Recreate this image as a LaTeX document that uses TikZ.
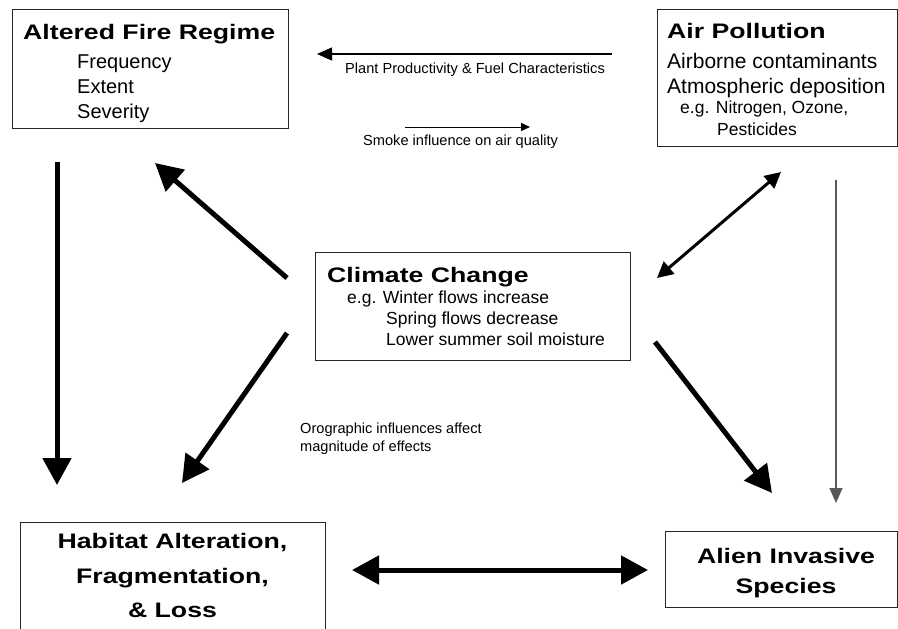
\documentclass[tikz,border=0pt]{standalone}
\usepackage{fontspec}
\setmainfont{Liberation Sans}
\newfontfamily\headfam{Liberation Sans}[FakeStretch=1.27]
\usetikzlibrary{arrows.meta}
\tikzset{
  box/.style={draw=black!85, line width=1pt, inner sep=0pt},
  hd/.style={anchor=base west, inner sep=0pt, font=\headfam\bfseries\fontsize{21}{25}\selectfont},
  hdc/.style={anchor=base, inner sep=0pt, font=\headfam\bfseries\fontsize{21}{25}\selectfont},
  item/.style={anchor=base west, inner sep=0pt, font=\fontsize{20}{24}\selectfont},
  itemb/.style={anchor=base west, inner sep=0pt, font=\fontsize{21}{25}\selectfont},
  eg/.style={anchor=base west, inner sep=0pt, font=\fontsize{17.5}{21}\selectfont},
  small/.style={anchor=base west, inner sep=0pt, font=\fontsize{14.6}{18}\selectfont},
  bigarrow/.style={line width=5pt, -{Triangle[width=28pt,length=27pt]}},
  bigdouble/.style={line width=5pt, {Triangle[width=28pt,length=27pt]}-{Triangle[width=28pt,length=27pt]}},
  middouble/.style={line width=3pt, {Triangle[width=16pt,length=16pt]}-{Triangle[width=16pt,length=16pt]}},
  grayarrow/.style={line width=1.2pt, draw=black!65, -{Triangle[width=13pt,length=15pt]}},
  thinarrow/.style={line width=1.2pt, -{Triangle[width=13pt,length=15pt]}},
  tinyarrow/.style={line width=1pt, -{Triangle[width=8pt,length=9pt]}}
}
\begin{document}
\begin{tikzpicture}[x=1pt,y=-1pt]
\useasboundingbox (0,0) rectangle (898,629);
\fill[white] (0,0) rectangle (898,629);
\clip (0,0) rectangle (898,629);

% Altered Fire Regime
\node[box, minimum width=276pt, minimum height=119pt] (fire) at (150,68.5) {};
\node[hd] (firet) at (23,39) {Altered Fire Regime};
\node[item] (fire1) at (77,68) {Frequency};
\node[item] (fire2) at (77,93) {Extent};
\node[item] (fire3) at (77,118) {Severity};

% Air Pollution
\node[box, minimum width=240pt, minimum height=137pt] (air) at (777,77.5) {};
\node[hd] (airt) at (667,38) {Air Pollution};
\node[itemb] (air1) at (667,68) {Airborne contaminants};
\node[itemb] (air2) at (667,93) {Atmospheric deposition};
\node[eg] (air3) at (680,113) {e.g. Nitrogen, Ozone,};
\node[eg] (air4) at (717,135) {Pesticides};

% Climate Change
\node[box, minimum width=315pt, minimum height=108pt] (cc) at (472.5,306) {};
\node[hd] (cct) at (327,282) {Climate Change};
\node[eg] (cc1) at (347,303) {e.g. Winter flows increase};
\node[eg] (cc2) at (386,324) {Spring flows decrease};
\node[eg] (cc3) at (386,345) {Lower summer soil moisture};

% Habitat
\node[box, minimum width=305pt, minimum height=112pt] (hab) at (172.5,578) {};
\node[hdc] (hab1) at (172.5,548) {Habitat Alteration,};
\node[hdc] (hab2) at (172.5,583) {Fragmentation,};
\node[hdc] (hab3) at (172.5,617) {\& Loss};

% Alien
\node[box, minimum width=232pt, minimum height=76pt] (alien) at (781,569) {};
\node[hdc] (ali1) at (786,563) {Alien Invasive};
\node[hdc] (ali2) at (786,593) {Species};

% labels
\node[small] (plant) at (345,73) {Plant Productivity \& Fuel Characteristics};
\node[small] (smoke) at (363,145) {Smoke influence on air quality};
\node[small, align=left, anchor=north west] (oro) at (300,423) {Orographic influences affect\\magnitude of effects};

% connector end points
\coordinate (fireS) at (57,162);
\coordinate (habN) at (57,485);
\coordinate (ccFireS) at (287,278);
\coordinate (fireE) at (155,163);
\coordinate (ccHabS) at (287,333);
\coordinate (habE) at (182,483);
\coordinate (ccAirS) at (657,278);
\coordinate (airE) at (781,172);
\coordinate (ccAliS) at (655,342);
\coordinate (aliE) at (772,493);
\coordinate (airS) at (836,180);
\coordinate (aliN) at (836,503);
\coordinate (habR) at (352,570);
\coordinate (aliL) at (648,570);
\coordinate (plantS) at (612,54);
\coordinate (plantE) at (317,54);
\coordinate (smokeS) at (405,127);
\coordinate (smokeE) at (530,127);

\draw[bigarrow] (fireS) -- (habN);
\draw[bigarrow] (ccFireS) -- (fireE);
\draw[bigarrow] (ccHabS) -- (habE);
\draw[middouble] (ccAirS) -- (airE);
\draw[bigarrow] (ccAliS) -- (aliE);
\draw[grayarrow] (airS) -- (aliN);
\draw[bigdouble] (habR) -- (aliL);
\draw[thinarrow] (plantS) -- (plantE);
\draw[tinyarrow] (smokeS) -- (smokeE);
\end{tikzpicture}
\end{document}
